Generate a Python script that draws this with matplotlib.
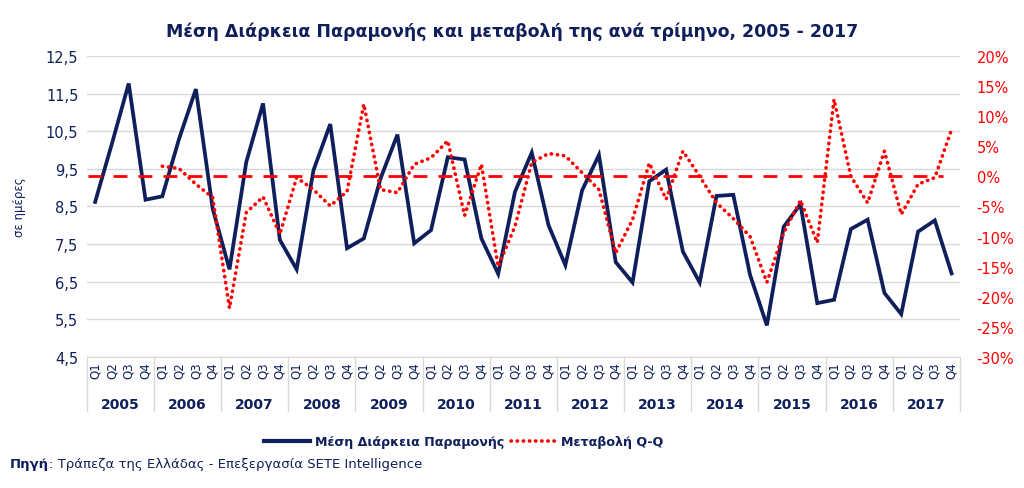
import numpy as np
import matplotlib
matplotlib.use('Agg')
import matplotlib.pyplot as plt
import matplotlib.transforms as mtransforms
from matplotlib.lines import Line2D

years = [str(y) for y in range(2005, 2018)]
quarters = ['Q1', 'Q2', 'Q3', 'Q4']

# average length of stay (days)
stay = [8.62, 10.17, 11.77, 8.68,
        8.77, 10.30, 11.62, 8.44,
        6.83, 9.68, 11.24, 7.61,
        6.83, 9.46, 10.69, 7.39,
        7.65, 9.25, 10.41, 7.52,
        7.87, 9.81, 9.75, 7.65,
        6.71, 8.89, 9.93, 8.00,
        6.94, 8.93, 9.87, 7.02,
        6.48, 9.17, 9.48, 7.30,
        6.48, 8.78, 8.81, 6.68,
        5.34, 7.96, 8.56, 5.93,
        6.02, 7.90, 8.15, 6.20,
        5.64, 7.83, 8.13, 6.72]

# change (%), starts 2006 Q1
change = [None, None, None, None,
          1.7, 1.3, -1.3, -3.5,
          -21.9, -6.0, -3.4, -9.6,
          -0.2, -2.2, -4.9, -2.5,
          12.0, -2.2, -2.7, 2.0,
          3.1, 5.9, -6.5, 2.0,
          -15.0, -8.3, 2.3, 3.8,
          3.4, 0.6, -2.2, -12.7,
          -7.2, 2.2, -3.8, 4.2,
          0.0, -4.4, -7.0, -10.0,
          -17.6, -9.4, -4.0, -11.0,
          12.8, 0.0, -4.4, 4.2,
          -6.3, -1.3, -0.2, 7.8]

navy = '#0E1F5B'
red = '#FF0000'
grid = '#D9D9D9'

fig = plt.figure(figsize=(10.24, 4.89), dpi=100)
ax = fig.add_axes([0.0847, 0.268, 0.8528, 0.6154])
ax2 = ax.twinx()

n = len(stay)
x = np.arange(n)

ax.plot(x, stay, color=navy, lw=2.7, solid_joinstyle='miter', zorder=3)
ax.set_ylim(4.5, 12.5)
ax.set_yticks(np.arange(4.5, 12.6, 1.0))
ax.set_yticklabels([('%.1f' % v).replace('.', ',') for v in np.arange(4.5, 12.6, 1.0)],
                   color=navy, fontsize=10.5)
ax.yaxis.grid(True, color=grid, lw=1)
ax.set_axisbelow(True)
ax.set_xlim(-0.5, n - 0.5)
ax.set_xticks(x)
ax.set_xticklabels(quarters * len(years), rotation=90, fontsize=8.5, color=navy)
ax.tick_params(axis='both', length=0)
ax.tick_params(axis='x', pad=3)
ax.tick_params(axis='y', pad=6)
for s in ['top', 'left', 'right']:
    ax.spines[s].set_visible(False)
ax.spines['bottom'].set_color(grid)
ax.set_ylabel('σε ημέρες', color=navy, fontsize=8.5, labelpad=14)

cx = [i for i, v in enumerate(change) if v is not None]
cy = [v for v in change if v is not None]
ax2.hlines(0, -0.4, n - 1.5, colors=red, linestyles=(0, (5, 4)), lw=2)
ax2.plot(cx, cy, color=red, lw=2.6, linestyle=(0, (0.1, 1.6)),
         dash_capstyle='round', zorder=4)
ax2.set_ylim(-30, 20)
ax2.set_yticks(np.arange(-30, 21, 5))
ax2.set_yticklabels(['%d%%' % v for v in np.arange(-30, 21, 5)], color=red, fontsize=10.5)
ax2.tick_params(axis='y', length=0, pad=12)
for s in ['top', 'left', 'right', 'bottom']:
    ax2.spines[s].set_visible(False)

# year labels and separators
trans = mtransforms.blended_transform_factory(ax.transData, ax.transAxes)
for i, yr in enumerate(years):
    ax.text(i * 4 + 1.5, -0.158, yr, transform=trans, ha='center', va='center',
            fontsize=10, fontweight='bold', color=navy)
for i in range(len(years) + 1):
    ax.plot([i * 4 - 0.5, i * 4 - 0.5], [0, -0.18], transform=trans, color=grid,
            lw=1, clip_on=False)

fig.suptitle('Μέση Διάρκεια Παραμονής και μεταβολή της ανά τρίμηνο, 2005 - 2017',
             x=0.5, y=0.955, fontsize=12.5, fontweight='bold', color=navy)

handles = [Line2D([], [], color=navy, lw=3),
           Line2D([], [], color=red, lw=2.6, linestyle=(0, (0.1, 1.6)), dash_capstyle='round')]
leg = fig.legend(handles, ['Μέση Διάρκεια Παραμονής', 'Μεταβολή Q-Q'],
                 loc='center', bbox_to_anchor=(0.453, 0.095), ncol=2, frameon=False,
                 handlelength=3.6, handletextpad=0.4, columnspacing=0.5, fontsize=9.1)
for t in leg.get_texts():
    t.set_color(navy)
    t.set_fontweight('bold')

src = fig.text(0.01, 0.043, 'Πηγή', fontsize=9.5, fontweight='bold', color=navy)
fig.canvas.draw()
fig.text(0.01 + src.get_window_extent().width / fig.bbox.width, 0.043,
         ': Τράπεζα της Ελλάδας - Επεξεργασία SETE Intelligence',
         fontsize=9.5, color=navy)

fig.savefig('out.png', dpi=100)
